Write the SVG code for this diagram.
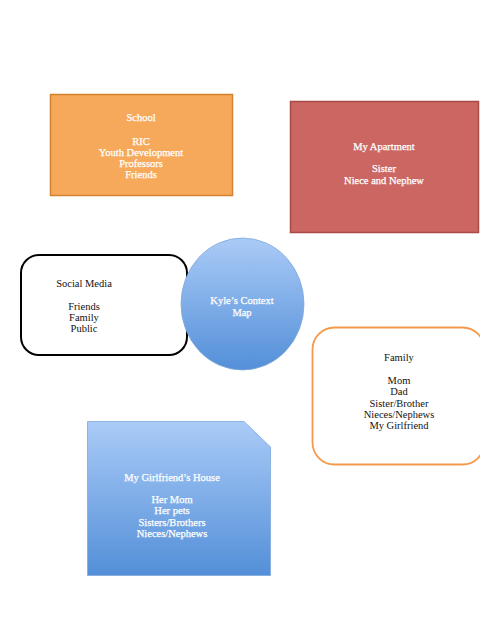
<svg xmlns="http://www.w3.org/2000/svg" width="494" height="640" viewBox="0 0 494 640">
<style>
text{font-family:"Liberation Serif","DejaVu Serif",serif;font-size:10.5px;text-anchor:middle}
.w{fill:#ffffff;stroke:#ffffff;stroke-width:0.25}
.k{fill:#111111}
</style>
<defs>
<linearGradient id="blue" x1="0" y1="0" x2="0" y2="1">
<stop offset="0" stop-color="#AACBF7"/>
<stop offset="1" stop-color="#538FD8"/>
</linearGradient>
<clipPath id="page"><rect x="0" y="0" width="480" height="640"/></clipPath>
</defs>
<rect width="494" height="640" fill="#ffffff"/>
<g id="connectors"></g>
<g id="school">
<rect x="50.5" y="94.5" width="182" height="101" fill="#F7A95B" stroke="#D4812F" stroke-width="1.5"/>
<text class="w" x="141" y="121">School</text>
<text class="w" x="141" y="145">RIC</text>
<text class="w" x="141" y="156">Youth Development</text>
<text class="w" x="141" y="167">Professors</text>
<text class="w" x="141" y="178">Friends</text>
</g>
<g id="apartment">
<rect x="290.5" y="101.5" width="188" height="131" fill="#CC6662" stroke="#A84A45" stroke-width="1.5"/>
<text class="w" x="384" y="150">My Apartment</text>
<text class="w" x="384" y="172">Sister</text>
<text class="w" x="384" y="184">Niece and Nephew</text>
</g>
<g id="social-media">
<rect x="21" y="255" width="166" height="100" rx="18" fill="#ffffff" stroke="#000000" stroke-width="2"/>
<text class="k" x="84" y="287">Social Media</text>
<text class="k" x="84" y="310">Friends</text>
<text class="k" x="84" y="321">Family</text>
<text class="k" x="84" y="332">Public</text>
</g>
<g id="context-map">
<ellipse cx="242.5" cy="304" rx="61.5" ry="66" fill="url(#blue)" stroke="#7FA8DA" stroke-width="0.8"/>
<text class="w" x="242" y="304">Kyle’s Context</text>
<text class="w" x="242" y="316">Map</text>
</g>
<g id="family">
<rect x="312.5" y="327.5" width="172" height="137" rx="22" fill="#ffffff" stroke="#F39A4A" stroke-width="1.8" clip-path="url(#page)"/>
<text class="k" x="399" y="361">Family</text>
<text class="k" x="399" y="384">Mom</text>
<text class="k" x="399" y="395">Dad</text>
<text class="k" x="399" y="407">Sister/Brother</text>
<text class="k" x="399" y="418">Nieces/Nephews</text>
<text class="k" x="399" y="429">My Girlfriend</text>
</g>
<g id="girlfriends-house">
<path d="M87.5 421.5 H244 L270.5 447 V575.5 H87.5 Z" fill="url(#blue)" stroke="#7FA8DA" stroke-width="0.8"/>
<text class="w" x="172" y="481">My Girlfriend’s House</text>
<text class="w" x="172" y="503">Her Mom</text>
<text class="w" x="172" y="514">Her pets</text>
<text class="w" x="172" y="526">Sisters/Brothers</text>
<text class="w" x="172" y="537">Nieces/Nephews</text>
</g>
</svg>
